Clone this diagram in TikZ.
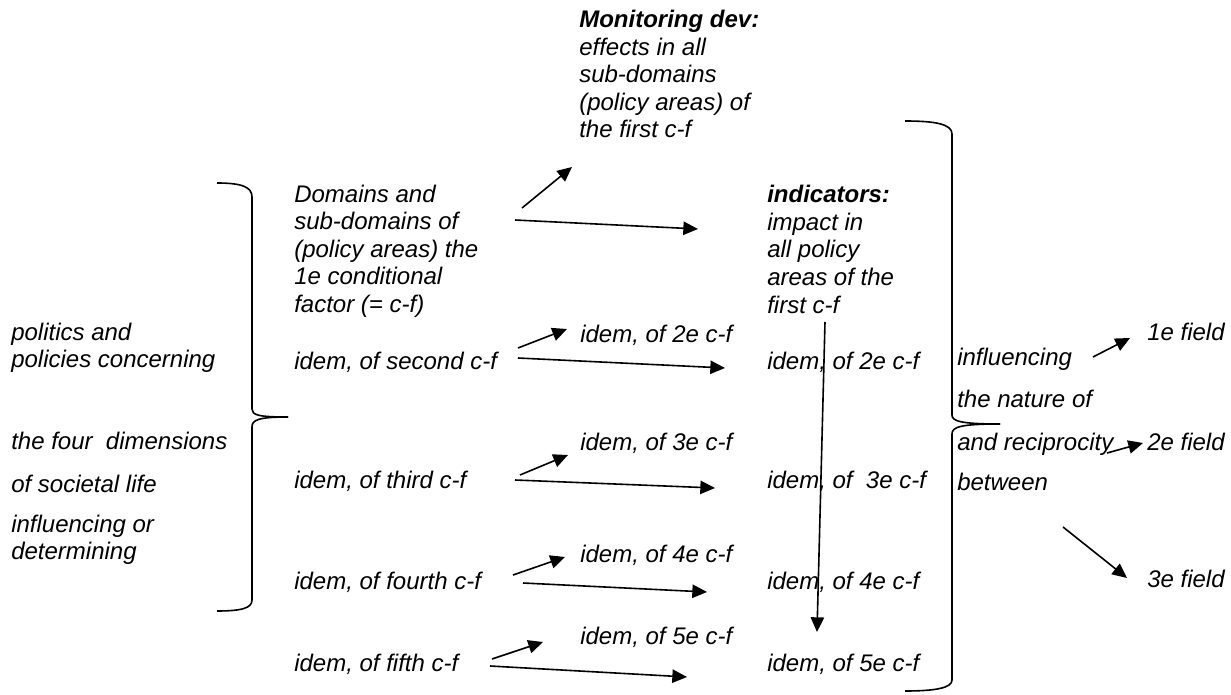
\documentclass[tikz,border=0pt]{standalone}
\usepackage{fontspec}
\setmainfont{Liberation Sans}
\usetikzlibrary{arrows.meta}
\begin{document}
\begin{tikzpicture}[x=0.75pt,y=-0.75pt,
  every node/.style={inner sep=0pt, anchor=base west, align=left,
    font=\fontsize{18}{20.7}\selectfont\itshape},
  arr/.style={line width=1.2pt, -{Triangle[length=11pt,width=10pt]}},
  brace/.style={line width=1.2pt}]
\useasboundingbox (0,0) rectangle (1231,695);
% headers (base anchor = baseline of last line)
\node (mon) at (579,138) {\textbf{Monitoring dev:}\\effects in all\\sub-domains\\(policy areas) of\\the first c-f};
\node (dom) at (294,312.4) {Domains and\\sub-domains of\\(policy areas) the\\1e conditional\\factor (= c-f)};
\node (ind) at (767,313) {\textbf{indicators:}\\impact in\\all policy\\areas of the\\first c-f};
% left column
\node (pol) at (11,367.6) {politics and\\policies concerning};
\node (four) at (11,449) {the four\ \ dimensions};
\node (soc) at (11,492) {of societal life};
\node (det) at (11,559.6) {influencing or\\determining};
% middle column
\node (m2) at (294,369) {idem, of second c-f};
\node (m3) at (294,488) {idem, of third c-f};
\node (m4) at (294,589) {idem, of fourth c-f};
\node (m5) at (294,671) {idem, of fifth c-f};
% upper idem
\node (u2) at (580,342) {idem, of 2e c-f};
\node (u3) at (580,450) {idem, of 3e c-f};
\node (u4) at (580,562) {idem, of 4e c-f};
\node (u5) at (580,644) {idem, of 5e c-f};
% right column idem
\node (r2) at (767,369) {idem, of 2e c-f};
\node (r3) at (767,488) {idem, of\ \ 3e c-f};
\node (r4) at (767,589) {idem, of 4e c-f};
\node (r5) at (767,671) {idem, of 5e c-f};
% right text
\node (t1) at (957,365) {influencing};
\node (t2) at (957,407) {the nature of};
\node (t3) at (957,450) {and reciprocity};
\node (t4) at (957,490) {between};
% fields
\node (f1) at (1147,340) {1e field};
\node (f2) at (1147,450) {2e field};
\node (f3) at (1147,587) {3e field};
% braces
\draw[brace] (217,183) .. controls (242,183) and (252,187) .. (252,197) -- (252,409)
  .. controls (252,415) and (258,417) .. (288,417);
\draw[brace] (288,417) .. controls (258,417) and (252,420) .. (252,427) -- (252,600)
  .. controls (252,608) and (242,611) .. (217,611);
\draw[brace] (905,121) .. controls (935,121) and (952,124) .. (952,134) -- (952,415)
  .. controls (952,421) and (960,424) .. (1000,424);
\draw[brace] (1000,424) .. controls (960,424) and (952,427) .. (952,434) -- (952,680)
  .. controls (952,688) and (935,691) .. (905,691);
% arrow end points
\coordinate (a1s) at (522,208); \coordinate (a1e) at (572,167);
\coordinate (b1s) at (515,220); \coordinate (b1e) at (698,229);
\coordinate (a2s) at (518,348); \coordinate (a2e) at (567,329);
\coordinate (b2s) at (518,358); \coordinate (b2e) at (725,368);
\coordinate (a3s) at (520,475); \coordinate (a3e) at (568,455);
\coordinate (b3s) at (515,480); \coordinate (b3e) at (715,488);
\coordinate (a4s) at (513,575); \coordinate (a4e) at (565,557);
\coordinate (b4s) at (523,583); \coordinate (b4e) at (707,592);
\coordinate (a5s) at (492,659); \coordinate (a5e) at (543,642);
\coordinate (b5s) at (490,666); \coordinate (b5e) at (687,677);
\coordinate (vs) at (825,322); \coordinate (ve) at (817,632);
\coordinate (f1s) at (1093,357); \coordinate (f1e) at (1130,338);
\coordinate (f2s) at (1107,453); \coordinate (f2e) at (1143,443);
\coordinate (f3s) at (1063,527); \coordinate (f3e) at (1127,578);
\foreach \s/\e in {a1s/a1e,b1s/b1e,a2s/a2e,b2s/b2e,a3s/a3e,b3s/b3e,a4s/a4e,b4s/b4e,a5s/a5e,b5s/b5e,vs/ve,f1s/f1e,f2s/f2e,f3s/f3e}
  \draw[arr] (\s) -- (\e);
\end{tikzpicture}
\end{document}
